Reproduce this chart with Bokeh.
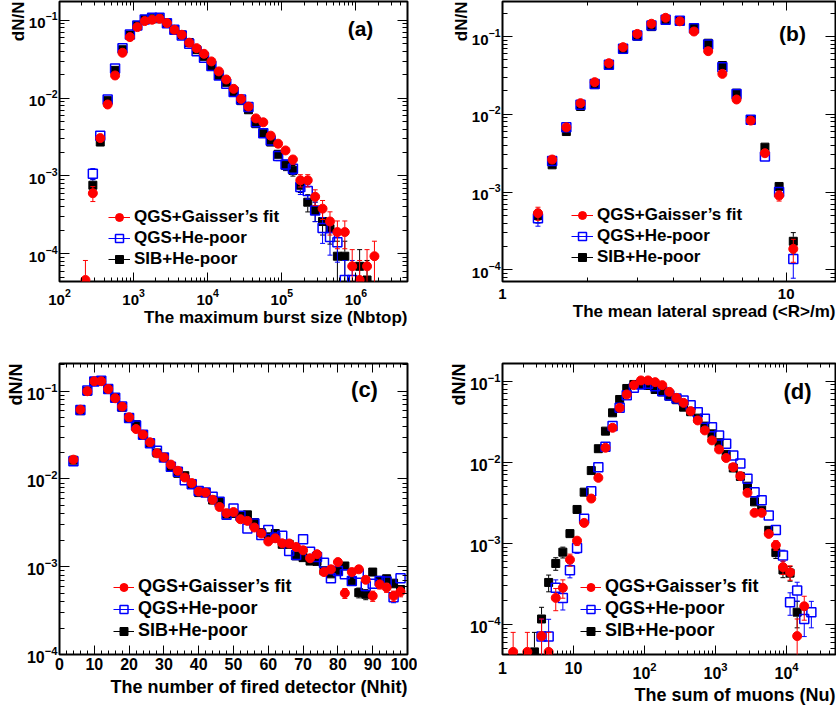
import numpy as np
from bokeh.plotting import figure
from bokeh.models import (Range1d, LogAxis, LinearAxis, FixedTicker, LogTicker,
                          SingleIntervalTicker, LogTickFormatter, Label, Legend, LegendItem, Title)
from bokeh.layouts import row, column
from bokeh.embed import file_html
from bokeh.resources import INLINE

NaN = float("nan")
FONT = "Liberation Sans"

# ---------------- data ----------------
series_names = ["QGS+Gaisser\u2019s fit", "QGS+He-poor", "SIB+He-poor"]

# (a) maximum burst size, bin centres in log10(Nbtop)
a_logx = [2.35, 2.45, 2.55, 2.65, 2.75, 2.85, 2.95, 3.05, 3.15, 3.25, 3.35, 3.45, 3.55, 3.65,
          3.75, 3.85, 3.95, 4.05, 4.15, 4.25, 4.35, 4.45, 4.55, 4.65, 4.75, 4.85, 4.95, 5.05,
          5.15, 5.25, 5.35, 5.45, 5.55, 5.65, 5.75, 5.85, 5.95, 6.05, 6.15, 6.25]
a_gaisser = [4.6e-5, 6.0e-4, 3.07e-3, 8.3e-3, 1.96e-2, 0.0384, 0.061, 0.082, 0.098, 0.102, 0.105,
             0.0924, 0.0759, 0.0654, 0.0517, 0.044, 0.0372, 0.0297, 0.0221, 0.0174, 0.0132, 9.8e-3,
             7.8e-3, 5.5e-3, 4.9e-3, 3.3e-3, 2.6e-3, 2.13e-3, 1.63e-3, 8.8e-4, 8.8e-4, 5.4e-4,
             3.8e-4, 2.6e-4, 1.9e-4, 1.9e-4, 6.9e-5, 4.6e-5, 6.9e-5, 9.3e-5]
a_gaisser_err = [3.6e-5, 1.31e-4, 2.96e-4] + [0] * 20 + [3.96e-4, 3.74e-4, 3.07e-4, 2.73e-4, 2.47e-4,
                 2.16e-4, 1.59e-4, 1.59e-4, 1.24e-4, 1.04e-4, 8.6e-5, 7.4e-5, 7.4e-5, 4.4e-5, 3.6e-5,
                 4.4e-5, 5.2e-5]
a_hepoor = [NaN, 1.07e-3, 3.3e-3, 9.6e-3, 0.024, 0.044, 0.066, 0.086, 0.103, 0.108, 0.108, 0.092,
            0.076, 0.064, 0.050, 0.040, 0.033, 0.026, 0.0196, 0.0153, 0.012, 9.6e-3, 7.7e-3, 4.9e-3,
            3.55e-3, 2.86e-3, 1.8e-3, 1.4e-3, 1.24e-3, 7.2e-4, 6.4e-4, 3.6e-4, 2.14e-4, 1.64e-4,
            1.41e-4, 4.6e-5, 4.6e-5, NaN, NaN, NaN]
a_hepoor_err = [0, 1.75e-4, 3.07e-4] + [0] * 20 + [3.74e-4, 3.18e-4, 2.86e-4, 2.27e-4, 2.0e-4,
                1.88e-4, 1.43e-4, 1.35e-4, 1.01e-4, 7.8e-5, 6.8e-5, 6.3e-5, 3.6e-5, 3.6e-5, 0, 0, 0]
a_sib = [NaN, 7.6e-4, 2.73e-3, 9.3e-3, 0.0228, 0.042, 0.065, 0.086, 0.103, 0.105, 0.105, 0.092,
         0.076, 0.065, 0.052, 0.042, 0.0345, 0.026, 0.0196, 0.016, 0.012, 9.3e-3, 7.1e-3, 4.7e-3,
         3.55e-3, 2.73e-3, 1.9e-3, 1.37e-3, 1.18e-3, 7.6e-4, 4.6e-4, 3.6e-4, 2.6e-4, 2.1e-4,
         9.3e-5, 9.3e-5, NaN, 6.9e-5, 4.6e-5, NaN]
a_sib_err = [0, 1.47e-4, 2.79e-4] + [0] * 20 + [3.66e-4, 3.18e-4, 2.79e-4, 2.33e-4, 1.98e-4,
             1.84e-4, 1.47e-4, 1.15e-4, 1.01e-4, 8.6e-5, 7.7e-5, 5.2e-5, 5.2e-5, 0, 4.4e-5, 3.6e-5, 0]

# (b) mean lateral spread, bin centres in log10(<R>/m)
b_logx = [0.125, 0.175, 0.225, 0.275, 0.325, 0.375, 0.425, 0.475, 0.525, 0.575, 0.625, 0.675,
          0.725, 0.775, 0.825, 0.875, 0.925, 0.975, 1.025]
b_gaisser = [5.35e-4, 2.62e-3, 6.8e-3, 0.0139, 0.0259, 0.0454, 0.073, 0.108, 0.146, 0.174, 0.157,
             0.116, 0.0648, 0.0331, 0.0155, 8.3e-3, 3.16e-3, 9.0e-4, 1.86e-4]
b_gaisser_err = [1.03e-4, 2.29e-4, 3.7e-4] + [0] * 12 + [4.1e-4, 2.51e-4, 1.34e-4, 6.1e-5]
b_hepoor = [4.6e-4, 2.5e-3, 6.8e-3, 0.0133, 0.0246, 0.0433, 0.0694, 0.103, 0.139, 0.164, 0.16,
            0.128, 0.079, 0.0403, 0.0183, 8.5e-3, 2.86e-3, 1.0e-3, 1.38e-4]
b_hepoor_err = [9.6e-5, 2.24e-4, 3.7e-4] + [0] * 12 + [4.1e-4, 2.4e-4, 1.41e-4, 6.0e-5]
b_sib = [5.0e-4, 2.24e-3, 6.0e-3, 0.0126, 0.0241, 0.0424, 0.068, 0.101, 0.134, 0.164, 0.16,
         0.129, 0.082, 0.0424, 0.0187, 8.5e-3, 3.78e-3, 1.18e-3, 2.33e-4]
b_sib_err = [1.0e-4, 2.1e-4, 3.5e-4] + [0] * 12 + [4.1e-4, 2.75e-4, 1.54e-4, 6.8e-5]

# (c) number of fired detectors
c_nhit = [4, 6, 8, 10, 12, 14, 16, 18, 20, 22, 24, 26, 28, 30, 32, 34, 36, 38, 40, 42, 44, 46, 48,
          50, 52, 54, 56, 58, 60, 62, 64, 66, 68, 70, 72, 74, 76, 78, 80, 82, 84, 86, 88, 90, 92,
          94, 96, 98]
c_gaisser = [0.0166, 0.0617, 0.100, 0.130, 0.130, 0.106, 0.0832, 0.0668, 0.0505, 0.0371, 0.032,
             0.0262, 0.0196, 0.0176, 0.0146, 0.0124, 0.0104, 8.98e-3, 7.2e-3, 7.0e-3, 5.8e-3,
             4.8e-3, 4.08e-3, 4.2e-3, 3.48e-3, 3.33e-3, 2.8e-3, 2.39e-3, 1.94e-3, 2.11e-3, 1.85e-3,
             1.84e-3, 1.68e-3, 1.54e-3, 1.25e-3, 1.39e-3, 8.7e-4, 9.35e-4, 1.13e-3, 5.0e-4, 8.7e-4,
             9.35e-4, 7.1e-4, 4.65e-4, 6.3e-4, 5.8e-4, 4.65e-4, 5.2e-4]
c_gaisser_err = [0] * 26 + [1.53e-4, 1.41e-4, 1.27e-4, 1.33e-4, 1.24e-4, 1.24e-4, 1.18e-4, 1.13e-4,
                 1.02e-4, 1.08e-4, 8.5e-5, 8.8e-5, 9.7e-5, 6.5e-5, 8.5e-5, 8.8e-5, 7.7e-5, 6.2e-5,
                 7.2e-5, 7.0e-5, 6.2e-5, 6.6e-5]
c_hepoor = [0.0159, 0.0612, 0.102, 0.129, 0.132, 0.106, 0.084, 0.0668, 0.0495, 0.0406, 0.032,
            0.0255, 0.021, 0.0176, 0.0138, 0.0121, 9.7e-3, 8.7e-3, 7.3e-3, 7.0e-3, 6.27e-3, 5.5e-3,
            3.9e-3, 4.6e-3, 3.8e-3, 2.72e-3, 3.11e-3, 2.3e-3, 2.63e-3, 2.15e-3, 2.25e-3, 1.51e-3,
            1.36e-3, 2.06e-3, 1.48e-3, 1.29e-3, 1.11e-3, 7.4e-4, 8.96e-4, 8.2e-4, 6.9e-4, 8.3e-4,
            6.04e-4, 6.4e-4, 6.9e-4, 6.8e-4, 4.5e-4, 7.4e-4]
c_hepoor_err = [0] * 25 + [1.5e-4, 1.6e-4, 1.38e-4, 1.48e-4, 1.34e-4, 1.37e-4, 1.12e-4, 1.06e-4,
                1.31e-4, 1.11e-4, 1.04e-4, 9.6e-5, 7.9e-5, 8.6e-5, 8.3e-5, 7.6e-5, 8.3e-5, 7.1e-5,
                7.3e-5, 7.6e-5, 7.5e-5, 6.1e-5, 7.9e-5]
c_sib = [0.0164, 0.060, 0.100, 0.129, 0.130, 0.106, 0.083, 0.0656, 0.049, 0.0416, 0.0317, 0.0257,
         0.0198, 0.0176, 0.0136, 0.0116, 0.0109, 8.9e-3, 7.0e-3, 7.0e-3, 5.75e-3, 5.4e-3, 3.97e-3,
         4.05e-3, 3.8e-3, 3.9e-3, 3.19e-3, 2.45e-3, 2.19e-3, 2.39e-3, 1.8e-3, 1.8e-3, 1.33e-3,
         1.27e-3, 1.16e-3, 1.15e-3, 9.0e-4, 8.3e-4, 9.0e-4, 1.02e-3, 6.8e-4, 5.07e-4, 4.85e-4,
         8.7e-4, 7.0e-4, 7.3e-4, 6.5e-4, 5.5e-4]
c_sib_err = [0] * 27 + [1.43e-4, 1.35e-4, 1.41e-4, 1.22e-4, 1.22e-4, 1.05e-4, 1.03e-4, 9.8e-5,
             9.8e-5, 8.7e-5, 8.3e-5, 8.7e-5, 9.2e-5, 7.5e-5, 6.5e-5, 6.4e-5, 8.5e-5, 7.6e-5,
             7.8e-5, 7.4e-5, 6.8e-5]

# (d) sum of muons, bin centres in log10(Nu)
d_logx = [0.15, 0.25, 0.35, 0.45, 0.55, 0.65, 0.75, 0.85, 0.95, 1.05, 1.15, 1.25, 1.35, 1.45,
          1.55, 1.65, 1.75, 1.85, 1.95, 2.05, 2.15, 2.25, 2.35, 2.45, 2.55, 2.65, 2.75, 2.85,
          2.95, 3.05, 3.15, 3.25, 3.35, 3.45, 3.55, 3.65, 3.75, 3.85, 3.95, 4.05, 4.15, 4.25, 4.35]
d_gaisser = [4.6e-5, NaN, 4.6e-5, NaN, 7.2e-5, 4.6e-5, 2.13e-4, 2.83e-4, 6.3e-4, 1.08e-3, 1.79e-3,
             3.57e-3, 6.43e-3, 0.0151, 0.0266, 0.0469, 0.0685, 0.0893, 0.102, 0.102, 0.0972, 0.0893,
             0.0738, 0.0622, 0.054, 0.0427, 0.0328, 0.0247, 0.0186, 0.0144, 0.0113, 8.7e-3, 6.75e-3,
             4.2e-3, 2.38e-3, 2.38e-3, 1.31e-3, 9.5e-4, 5.1e-4, 4.4e-4, 7.2e-5, 1.68e-4, NaN]
d_gaisser_err = [3.4e-5, 0, 3.4e-5, 0, 4.5e-5, 3.4e-5, 6.5e-5, 7.2e-5, 1.07e-4, 1.4e-4, 1.8e-4,
                 2.55e-4] + [0] * 21 + [2.76e-4, 2.08e-4, 2.08e-4, 1.54e-4, 1.31e-4, 9.6e-5,
                 8.9e-5, 4.5e-5, 5.5e-5, 0]
d_hepoor = [NaN, NaN, NaN, NaN, 7.1e-5, 7.1e-5, 2.83e-4, 2.13e-4, 4.68e-4, 8.8e-4, 2.01e-3, 4.4e-3,
            8.7e-3, 0.0155, 0.0279, 0.047, 0.0672, 0.0828, 0.091, 0.093, 0.0868, 0.0753, 0.0665,
            0.0612, 0.0578, 0.0506, 0.0415, 0.0343, 0.0271, 0.0214, 0.0169, 0.0121, 9.65e-3,
            6.25e-3, 4.28e-3, 3.41e-3, 2.21e-3, 1.46e-3, 7.1e-4, 1.88e-4, 2.63e-4, 1.17e-4, 1.42e-4]
d_hepoor_err = [0, 0, 0, 0, 4.5e-5, 4.5e-5, 7.2e-5, 6.2e-5, 9.2e-5, 1.26e-4, 1.9e-4, 2.8e-4] + \
               [0] * 22 + [2.8e-4, 2.5e-4, 2.0e-4, 1.63e-4, 1.14e-4, 5.8e-5, 6.9e-5, 4.6e-5, 5.1e-5]
d_sib = [NaN, NaN, NaN, 4.6e-5, 1.17e-4, 3.3e-4, 5.66e-4, 7.8e-4, 1.32e-3, 2.62e-3, 4.28e-3,
         7.9e-3, 0.0147, 0.0242, 0.0407, 0.0594, 0.0812, 0.091, 0.091, 0.0885, 0.0789, 0.0738,
         0.0653, 0.059, 0.0478, 0.042, 0.035, 0.0279, 0.0224, 0.0174, 0.0125, 8.5e-3, 6.7e-3,
         5.07e-3, 3.25e-3, 2.57e-3, 1.45e-3, 7.7e-4, 4.7e-4, 4.3e-4, 1.42e-4, NaN, NaN]
d_sib_err = [0, 0, 0, 3.4e-5, 4.6e-5, 7.7e-5, 1.0e-4, 1.19e-4, 1.55e-4, 2.2e-4, 2.8e-4] + \
            [0] * 23 + [2.4e-4, 2.2e-4, 1.6e-4, 1.18e-4, 9.2e-5, 8.8e-5, 5.1e-5, 0, 0]

# ---------------- styling ----------------
STYLES = [
    dict(color="#ff0000", marker="circle", fill="#ff0000", size=9, lw=1.0),
    dict(color="#0000ff", marker="square", fill=None, size=9, lw=1.5),
    dict(color="#000000", marker="square", fill="#000000", size=8, lw=1.0),
]


def style_axis(ax, major_in, minor_in, fsize=None, standoff=0):
    ax.major_tick_in = major_in
    ax.major_tick_out = 0
    ax.minor_tick_in = minor_in
    ax.minor_tick_out = 0
    ax.major_tick_line_color = "black"
    ax.minor_tick_line_color = "black"
    ax.major_tick_line_width = 1
    ax.minor_tick_line_width = 1
    ax.axis_line_color = None
    if fsize:
        ax.major_label_text_font = FONT
        ax.major_label_text_font_style = "bold"
        ax.major_label_text_font_size = fsize
        ax.major_label_standoff = standoff
        ax.major_label_text_color = "black"
    else:
        ax.major_label_text_font_size = "1px"
        ax.major_label_text_alpha = 0
        ax.major_label_standoff = 0


def axis_title(text, fs, standoff):
    t = Title(text=text, align="right", text_font=FONT, text_font_style="bold",
              text_font_size=fs, text_color="black", standoff=0, offset=0)
    try:
        t.standoff = standoff
    except Exception:
        pass
    return t


def make_panel(xs, data, xlog, xr, yr, fw, fh, bl, br, bt, bb, ppd, tick_fs, xlabel, lab_fs,
               xt_so, yt_so, tag, tag_fs, tag_dx, tag_dy, leg_loc, leg_fs, glyph_w,
               xticker, xformatter):
    p = figure(x_axis_type="log" if xlog else "linear", y_axis_type="log",
               x_range=Range1d(*xr), y_range=Range1d(*yr),
               frame_width=fw, frame_height=fh,
               min_border_left=bl, min_border_right=br, min_border_top=bt, min_border_bottom=bb,
               output_backend="svg", toolbar_location=None,
               background_fill_color="white", border_fill_color="white",
               outline_line_color="black", outline_line_width=2)
    p.grid.visible = False

    p.xaxis.ticker = xticker
    if xformatter is not None:
        p.xaxis.formatter = xformatter
        if xlog:
            p.xaxis.major_label_overrides = {10: "10"}
    yticker = LogTicker(num_minor_ticks=10)
    p.yaxis.ticker = yticker
    style_axis(p.xaxis[0], 9, 4, tick_fs, 7 if xlog else 3)
    style_axis(p.yaxis[0], 10, 5, tick_fs, 2)

    # ROOT-like axis titles: at the far end of each axis, just outside the tick labels
    p.add_layout(axis_title(xlabel, lab_fs, xt_so), "below")
    p.add_layout(axis_title("dN/N", lab_fs, yt_so), "left")

    # mirrored ticks on top and right
    top = LogAxis(ticker=xticker) if xlog else LinearAxis(ticker=xticker)
    style_axis(top, 9, 4)
    p.add_layout(top, "above")
    right = LogAxis(ticker=yticker)
    style_axis(right, 10, 5)
    p.add_layout(right, "right")

    gap = 10 ** (4.5 / ppd)
    for (vals, errs), st in zip(data, [STYLES[2], STYLES[1], STYLES[0]]):
        x = np.asarray(xs, float)
        y = np.asarray(vals, float)
        e = np.asarray(errs, float)
        ok = ~np.isnan(y)
        m = ok & (e > 0)
        up = np.where(m, y + e, 1.0)
        lo = np.where(m & (y - e > 0), y - e, np.where(m, y * 1e-3, 1.0))
        mu = m & (up > y * gap)
        ml = m & (lo < y / gap)
        if mu.any():
            p.segment(x[mu], y[mu] * gap, x[mu], up[mu], line_color=st["color"], line_width=1)
            p.scatter(x[mu], up[mu], marker="dash", size=5, line_color=st["color"], line_width=1)
        if ml.any():
            p.segment(x[ml], y[ml] / gap, x[ml], lo[ml], line_color=st["color"], line_width=1)
            p.scatter(x[ml], lo[ml], marker="dash", size=5, line_color=st["color"], line_width=1)
        p.scatter(x[ok], y[ok], marker=st["marker"], size=st["size"], line_color=st["color"],
                  fill_color=st["fill"], line_width=st["lw"])

    # legend
    items = []
    for name, st in zip(series_names, STYLES):
        lr = p.line(x=[xr[0]], y=[yr[0]], line_color=st["color"], line_width=1)
        mr = p.scatter(x=[xr[0]], y=[yr[0] * 1e-3], marker=st["marker"], line_color=st["color"],
                       fill_color=st["fill"], line_width=st["lw"])
        items.append(LegendItem(label=name, renderers=[lr, mr]))
    leg = Legend(items=items, location=leg_loc, orientation="vertical", padding=0, spacing=1,
                 margin=0, glyph_width=glyph_w, glyph_height=20, label_height=20,
                 label_standoff=4, label_text_font=FONT, label_text_font_style="bold",
                 label_text_font_size=leg_fs, label_text_color="black",
                 border_line_alpha=0, background_fill_alpha=0)
    p.add_layout(leg)

    # panel tag
    p.add_layout(Label(x=xr[1], y=yr[1], text=tag, text_align="center", text_baseline="middle",
                       x_offset=-tag_dx, y_offset=-tag_dy, text_font=FONT,
                       text_font_style="bold", text_font_size=tag_fs, text_color="black"))
    return p


def decade_ticker():
    return LogTicker(num_minor_ticks=10)


pa = make_panel([10 ** v for v in a_logx],
                [(a_sib, a_sib_err), (a_hepoor, a_hepoor_err), (a_gaisser, a_gaisser_err)],
                True, (1e2, 10 ** 6.696), (4.4e-5, 0.175), 348, 280, 59, 10, 1, 48, 77.8,
                "15px", "The maximum burst size (Nbtop)", "17px", -3, -5, "(a)", "21px", 47, 27,
                (49, 12), "17px", 22, decade_ticker(), None)

pb = make_panel([10 ** v for v in b_logx],
                [(b_sib, b_sib_err), (b_hepoor, b_hepoor_err), (b_gaisser, b_gaisser_err)],
                True, (1.0, 14.92), (7.08e-5, 0.282), 333, 280, 85, 1, 1, 48, 77.8,
                "15px", "The mean lateral spread (<R>/m)", "17px", -3, -4, "(b)", "21px", 43, 32,
                (69, 14), "17px", 22,
                FixedTicker(ticks=[1, 10], minor_ticks=[2, 3, 4, 5, 6, 7, 8, 9]),
                LogTickFormatter(min_exponent=1))

pc = make_panel(c_nhit,
                [(c_sib, c_sib_err), (c_hepoor, c_hepoor_err), (c_gaisser, c_gaisser_err)],
                False, (0, 100), (1e-4, 0.207), 348, 291, 59, 10, 34, 51, 87.6,
                "16px", "The number of fired detector (Nhit)", "18px", 4, -5, "(c)", "22px", 43, 26,
                (54, 13), "18px", 21, SingleIntervalTicker(interval=10, num_minor_ticks=5), None)

pd_ = make_panel([10 ** v for v in d_logx],
                 [(d_sib, d_sib_err), (d_hepoor, d_hepoor_err), (d_gaisser, d_gaisser_err)],
                 True, (1.0, 10 ** 4.69), (4.27e-5, 0.165), 333, 291, 85, 1, 34, 51, 81.0,
                 "16px", "The sum of muons (Nu)", "18px", 2, -4, "(d)", "22px", 38, 28,
                 (78, 13), "18px", 21, decade_ticker(), LogTickFormatter(min_exponent=1))

layout = column(row(pa, pb), row(pc, pd_))

with open("out.html", "w") as f:
    f.write(file_html(layout, INLINE))
